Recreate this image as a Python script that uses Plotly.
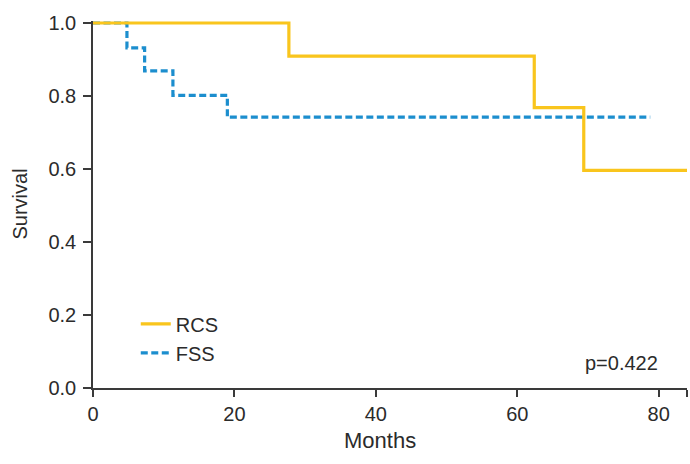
import plotly.graph_objects as go

# Data
rcs_months = [0, 27.7, 62.4, 69.4, 84]
rcs_surv = [1.0, 0.909, 0.768, 0.596, 0.596]
fss_months = [0, 4.8, 7.3, 11.3, 19.0, 78.8]
fss_surv = [1.0, 0.932, 0.869, 0.802, 0.742, 0.742]

x_tickvals = [0, 20, 40, 60, 80, 84]
x_ticktext = ["0", "20", "40", "60", "80", ""]
y_tickvals = [0, 0.2, 0.4, 0.6, 0.8, 1.0]
y_ticktext = ["0.0", "0.2", "0.4", "0.6", "0.8", "1.0"]

FONT = "Liberation Sans, Arial, Helvetica, sans-serif"
AXIS_COLOR = "#3a3a3a"
TEXT_COLOR = "#2b2b2b"

fig = go.Figure()
fig.add_trace(go.Scatter(
    x=fss_months, y=fss_surv, mode="lines", name="FSS",
    line=dict(shape="hv", color="#1C8ECE", width=3.2, dash="7px,3.5px"),
    cliponaxis=False,
))
fig.add_trace(go.Scatter(
    x=rcs_months, y=rcs_surv, mode="lines", name="RCS",
    line=dict(shape="hv", color="#F9C51D", width=3.2),
    cliponaxis=False,
))

fig.add_annotation(
    x=74.8, y=0.068, xref="x", yref="y", text="p=0.422", showarrow=False,
    font=dict(family=FONT, size=20, color=TEXT_COLOR),
)
fig.add_annotation(
    x=40.6, y=0, xref="x", yref="paper", yshift=-52, yanchor="middle",
    text="Months", showarrow=False,
    font=dict(family=FONT, size=22, color=TEXT_COLOR),
)
fig.add_annotation(
    x=0, y=0.5, xref="paper", yref="paper", xshift=-74, xanchor="center",
    yanchor="middle", textangle=-90,
    text="Survival", showarrow=False,
    font=dict(family=FONT, size=20, color=TEXT_COLOR),
)

fig.update_layout(
    width=690, height=464,
    margin=dict(l=93, r=3, t=21, b=76, autoexpand=False),
    paper_bgcolor="white", plot_bgcolor="white",
    font=dict(family=FONT, size=20, color=TEXT_COLOR),
    showlegend=True,
    legend=dict(
        x=0.072, y=0.135, xanchor="left", yanchor="middle",
        traceorder="reversed",
        bgcolor="rgba(0,0,0,0)", font=dict(family=FONT, size=20, color=TEXT_COLOR),
        borderwidth=0,
    ),
    xaxis=dict(
        range=[0, 84], showgrid=False, zeroline=False, automargin=False,
        showline=True, linecolor=AXIS_COLOR, linewidth=1.5,
        ticks="outside", ticklen=7, tickwidth=1.5, tickcolor=AXIS_COLOR,
        tickvals=x_tickvals, ticktext=x_ticktext,
        tickfont=dict(family=FONT, size=20, color=TEXT_COLOR),
    ),
    yaxis=dict(
        range=[0, 1.0055], showgrid=False, zeroline=False, automargin=False,
        showline=True, linecolor=AXIS_COLOR, linewidth=1.5,
        ticks="outside", ticklen=8, tickwidth=1.5, tickcolor=AXIS_COLOR,
        tickvals=y_tickvals, ticktext=y_ticktext, ticklabelstandoff=3,
        tickfont=dict(family=FONT, size=20, color=TEXT_COLOR),
    ),
)

fig.write_html(
    "out.html",
    config={"displayModeBar": False},
    post_script="document.body.style.margin='0';document.body.style.overflow='hidden';",
)
